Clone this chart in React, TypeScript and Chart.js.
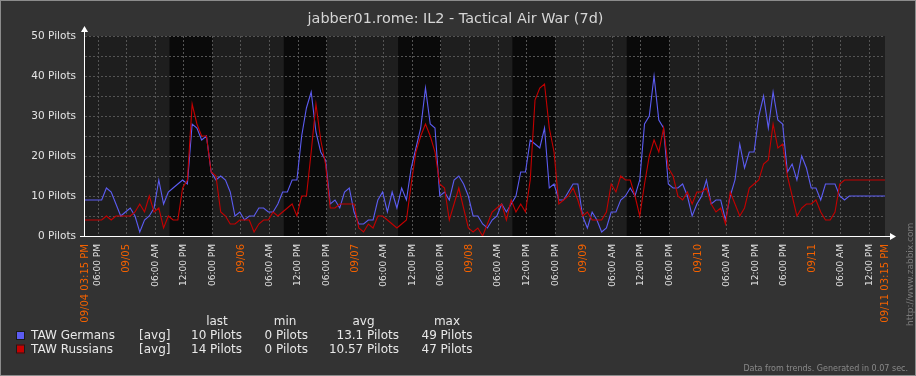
import { useEffect, useRef } from 'react';
import { Chart, registerables } from 'chart.js';

Chart.register(...registerables);

// Hourly trend averages (hours since 09/04 03:15 PM, point i sits at hour i - 0.5)
const germans = [
  9, 9, 9, 9, 9, 12, 11, 8, 5, 6, 7, 5, 1, 4, 5, 7, 14, 8, 11, 12,
  13, 14, 13, 28, 27, 24, 25, 16, 14, 15, 14, 11, 5, 6, 4, 5, 5, 7, 7, 6,
  6, 8, 11, 11, 14, 14, 25, 32, 36, 26, 21, 19, 8, 9, 7, 11, 12, 6, 3, 3,
  4, 4, 9, 11, 6, 11, 7, 12, 9, 17, 22, 27, 37, 28, 27, 10, 11, 9, 14, 15,
  13, 10, 5, 5, 3, 2, 4, 5, 8, 6, 8, 10, 16, 16, 24, 23, 22, 27, 12, 13,
  9, 9, 11, 13, 13, 5, 2, 6, 4, 1, 2, 6, 6, 9, 10, 12, 10, 14, 28, 30,
  40, 29, 27, 13, 12, 12, 13, 10, 5, 8, 10, 14, 8, 9, 9, 4, 10, 14, 23, 17,
  21, 21, 30, 35, 27, 36, 29, 28, 16, 18, 14, 20, 17, 12, 12, 9, 13, 13, 13, 10,
  9, 10, 10, 10, 10, 10, 10, 10, 10, 10,
];
const russians = [
  4, 4, 4, 4, 4, 5, 4, 5, 5, 5, 5, 6, 8, 6, 10, 6, 7, 2, 5, 4,
  4, 12, 14, 33, 28, 25, 25, 16, 15, 6, 5, 3, 3, 4, 4, 4, 1, 3, 4, 4,
  6, 5, 6, 7, 8, 5, 10, 10, 21, 33, 24, 18, 7, 7, 8, 8, 8, 8, 2, 1,
  3, 2, 5, 5, 4, 3, 2, 3, 4, 13, 21, 25, 28, 25, 21, 13, 12, 4, 8, 12,
  7, 2, 1, 2, 0, 3, 6, 7, 8, 4, 9, 6, 8, 6, 14, 34, 37, 38, 27, 21,
  8, 9, 10, 12, 9, 5, 6, 4, 4, 4, 6, 13, 11, 15, 14, 14, 10, 5, 13, 20,
  24, 21, 27, 17, 15, 10, 9, 11, 8, 11, 11, 12, 8, 6, 7, 3, 11, 8, 5, 7,
  12, 13, 14, 18, 19, 28, 22, 23, 15, 10, 5, 7, 8, 8, 9, 6, 4, 4, 6, 13,
  14, 14, 14, 14, 14, 14, 14, 14, 14, 14,
];
const hours = germans.map((_, i) => i - 0.5);

const tickHours = [
  0, 2.75, 8.75, 14.75, 20.75, 26.75, 32.75, 38.75, 44.75, 50.75, 56.75, 62.75, 68.75, 74.75,
  80.75, 86.75, 92.75, 98.75, 104.75, 110.75, 116.75, 122.75, 128.75, 134.75, 140.75, 146.75,
  152.75, 158.75, 164.75, 168,
];
const tickLabels = [
  '09/04 03:15 PM', '06:00 PM', '09/05', '06:00 AM', '12:00 PM', '06:00 PM', '09/06', '06:00 AM',
  '12:00 PM', '06:00 PM', '09/07', '06:00 AM', '12:00 PM', '06:00 PM', '09/08', '06:00 AM',
  '12:00 PM', '06:00 PM', '09/09', '06:00 AM', '12:00 PM', '06:00 PM', '09/10', '06:00 AM',
  '12:00 PM', '06:00 PM', '09/11', '06:00 AM', '12:00 PM', '09/11 03:15 PM',
];
const workStart = [17.75, 41.75, 65.75, 89.75, 113.75];
const workEnd = [26.75, 50.75, 74.75, 98.75, 122.75];

const seriesNames = ['TAW Germans', 'TAW Russians'];
const seriesColors = ['#5c5cf2', '#c40000'];
const legendLast = ['10 Pilots', '14 Pilots'];
const legendMin = ['0 Pilots', '0 Pilots'];
const legendAvg = ['13.1 Pilots', '10.57 Pilots'];
const legendMax = ['49 Pilots', '47 Pilots'];

const TITLE = 'jabber01.rome: IL2 - Tactical Air War (7d)';
const FONT = '"DejaVu Sans", sans-serif';

const isDate = (i: number) => (tickLabels[i] || '').includes('/');

const zabbixPlugin = {
  id: 'zabbixDecor',
  beforeDraw(chart: any) {
    const { ctx, chartArea: a, scales } = chart;
    const x = scales.x;
    ctx.save();
    ctx.fillStyle = '#333333';
    ctx.fillRect(0, 0, chart.width, chart.height);
    ctx.strokeStyle = '#8c8c8c';
    ctx.lineWidth = 1;
    ctx.strokeRect(0.5, 0.5, chart.width - 1, chart.height - 1);
    ctx.fillStyle = '#1e1e1e';
    ctx.fillRect(a.left, a.top, a.right - a.left, a.bottom - a.top);
    ctx.fillStyle = '#0a0a0a';
    workStart.forEach((s, i) => {
      const x0 = x.getPixelForValue(s);
      const x1 = x.getPixelForValue(workEnd[i]);
      ctx.fillRect(x0, a.top, x1 - x0, a.bottom - a.top);
    });
    ctx.restore();
  },
  afterDraw(chart: any) {
    const { ctx, chartArea: a } = chart;
    ctx.save();
    // axes
    ctx.strokeStyle = '#ffffff';
    ctx.fillStyle = '#ffffff';
    ctx.lineWidth = 1;
    const ax = Math.round(a.left) - 0.5;
    const ay = Math.round(a.bottom) + 0.5;
    ctx.beginPath();
    ctx.moveTo(ax, ay);
    ctx.lineTo(ax, a.top - 5);
    ctx.moveTo(a.left - 5, ay);
    ctx.lineTo(a.right + 5, ay);
    ctx.stroke();
    ctx.beginPath();
    ctx.moveTo(ax, a.top - 10);
    ctx.lineTo(ax - 3.5, a.top - 4);
    ctx.lineTo(ax + 3.5, a.top - 4);
    ctx.closePath();
    ctx.fill();
    ctx.beginPath();
    ctx.moveTo(a.right + 11, ay);
    ctx.lineTo(a.right + 5, ay - 3.5);
    ctx.lineTo(a.right + 5, ay + 3.5);
    ctx.closePath();
    ctx.fill();

    // title
    ctx.fillStyle = '#d6d6d6';
    ctx.font = `14.4px ${FONT}`;
    ctx.textAlign = 'center';
    ctx.textBaseline = 'middle';
    ctx.fillText(TITLE, 455.5, 19);

    // legend
    ctx.fillStyle = '#e8e8e8';
    ctx.font = `12px ${FONT}`;
    ctx.textAlign = 'center';
    ctx.fillText('last', 217, 322);
    ctx.fillText('min', 285, 322);
    ctx.fillText('avg', 363.5, 322);
    ctx.fillText('max', 447, 322);
    seriesNames.forEach((name, i) => {
      const y = 336 + i * 13.5;
      ctx.fillStyle = seriesColors[i];
      ctx.fillRect(16, y - 5, 9, 9);
      ctx.strokeStyle = '#1a1a1a';
      ctx.strokeRect(16.5, y - 4.5, 8, 8);
      ctx.fillStyle = '#e8e8e8';
      ctx.textAlign = 'left';
      ctx.fillText(name, 31, y);
      ctx.fillText('[avg]', 139, y);
      ctx.fillText(legendLast[i], 191, y);
      ctx.fillText(legendMin[i], 264.5, y);
      ctx.fillText(legendMax[i], 421.5, y);
      ctx.textAlign = 'right';
      ctx.fillText(legendAvg[i], 399, y);
    });

    // footer
    ctx.fillStyle = '#8a8a8a';
    ctx.font = `8px ${FONT}`;
    ctx.textAlign = 'right';
    ctx.fillText('Data from trends. Generated in 0.07 sec.', 908, 368.5);

    // vertical url
    ctx.fillStyle = '#7a7a7a';
    ctx.font = `9px ${FONT}`;
    ctx.translate(910.5, 326);
    ctx.rotate(-Math.PI / 2);
    ctx.textAlign = 'left';
    ctx.fillText('http://www.zabbix.com', 0, 0);
    ctx.restore();
  },
};

export default function App() {
  const ref = useRef<HTMLCanvasElement | null>(null);
  useEffect(() => {
    document.body.style.margin = '0';
    if (!ref.current) return;
    const chart = new Chart(ref.current, {
      type: 'line',
      data: {
        datasets: [
          {
            label: seriesNames[0],
            data: germans.map((v, i) => ({ x: hours[i], y: v })),
            borderColor: seriesColors[0],
            borderWidth: 1.1,
            pointRadius: 0,
            tension: 0,
            order: 1,
          },
          {
            label: seriesNames[1],
            data: russians.map((v, i) => ({ x: hours[i], y: v })),
            borderColor: seriesColors[1],
            borderWidth: 1.1,
            pointRadius: 0,
            tension: 0,
            order: 0,
          },
        ],
      },
      options: {
        responsive: false,
        animation: false,
        devicePixelRatio: 1,
        events: [],
        layout: { padding: { top: 36, right: 31, left: 0, bottom: 0 } },
        plugins: { legend: { display: false }, tooltip: { enabled: false }, title: { display: false } },
        scales: {
          x: {
            type: 'linear',
            min: 0,
            max: 168,
            afterBuildTicks: (s: any) => {
              s.ticks = tickHours.map((v) => ({ value: v }));
            },
            afterFit: (s: any) => {
              s.height = 140;
            },
            grid: {
              color: (c: any) =>
                c.tick && (c.tick.value === 0 || c.tick.value === 168) ? 'rgba(0,0,0,0)' : '#545454',
              drawTicks: false,
              lineWidth: 1,
            },
            border: { display: false, dash: [2, 2] },
            ticks: {
              autoSkip: false,
              maxRotation: 90,
              minRotation: 90,
              padding: 8,
              color: (c: any) => (isDate(c.index) ? '#f26100' : '#e4e4e4'),
              font: (c: any) => ({ family: FONT, size: isDate(c.index) ? 10 : 9 }),
              callback: (_v: any, i: number) => tickLabels[i],
            },
          },
          y: {
            min: 0,
            max: 50,
            afterFit: (s: any) => {
              s.width = 85;
            },
            grid: {
              color: (c: any) => (c.tick && c.tick.value === 0 ? 'rgba(0,0,0,0)' : '#545454'),
              drawTicks: false,
              lineWidth: 1,
            },
            border: { display: false, dash: [2, 2] },
            ticks: {
              stepSize: 5,
              autoSkip: false,
              padding: 9,
              color: '#e4e4e4',
              font: { family: FONT, size: 10.5 },
              callback: (v: any) => (Number(v) % 10 === 0 ? `${v} Pilots` : ''),
            },
          },
        },
      } as any,
      plugins: [zabbixPlugin],
    });
    return () => chart.destroy();
  }, []);
  return (
    <div style={{ width: 916, height: 376 }}>
      <canvas ref={ref} width={916} height={376} style={{ display: 'block' }} />
    </div>
  );
}
